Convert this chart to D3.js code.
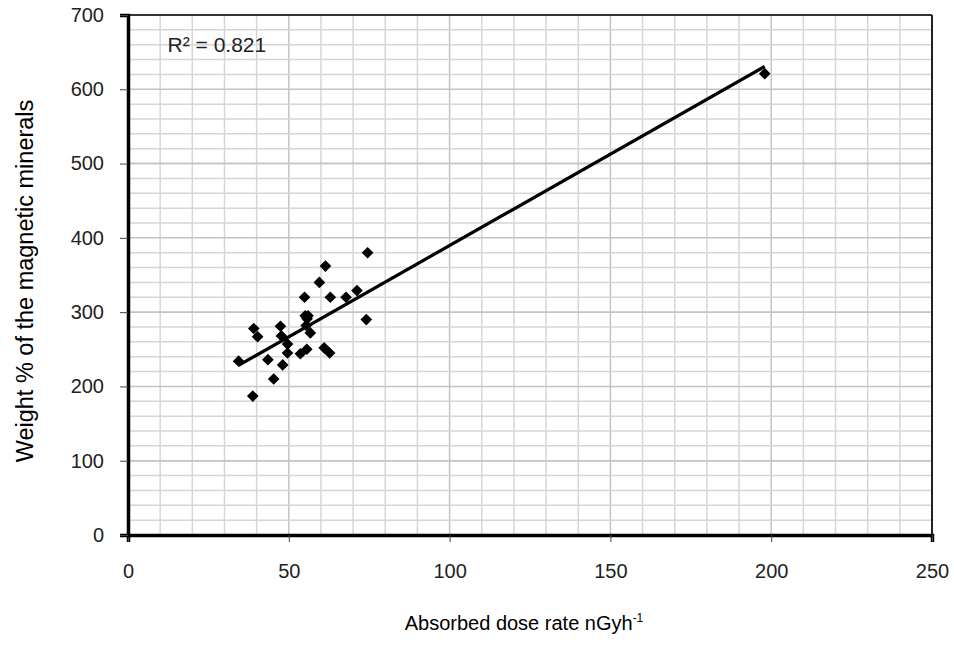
<!DOCTYPE html>
<html>
<head>
<meta charset="utf-8">
<script src="https://cdn.jsdelivr.net/npm/d3@7"></script>
<style>
  body { margin: 0; background: #fff; }
  svg { display: block; font-family: "Liberation Sans", Arial, sans-serif; }
</style>
</head>
<body>
<svg id="chart" width="954" height="651"></svg>
<script>
// absorbed dose rate (nGy/h) and weight % of magnetic minerals
var doseRate = [34.4, 39.1, 40.3, 38.8, 43.5, 45.3, 48.1, 47.4, 47.7, 49.6,
                49.6, 53.6, 55.6, 54.9, 55.1, 55.7, 55.4, 56.7, 56.0, 59.5,
                61.4, 62.9, 61.0, 62.7, 67.8, 71.2, 74.5, 74.1, 198];
var weightPct = [234, 278, 267, 187, 236, 210, 229, 281, 268, 257,
                 245, 244, 250, 320, 295, 291, 282, 272, 295, 340,
                 362, 320, 252, 245, 320, 329, 380, 290, 621];
var xTicks = [0, 50, 100, 150, 200, 250];
var yTicks = [0, 100, 200, 300, 400, 500, 600, 700];
var rSquaredLabel = 'R\u00b2 = 0.821';

var margin = {left: 128, right: 22, top: 15, bottom: 116};
var width = 954 - margin.left - margin.right,
    height = 651 - margin.top - margin.bottom;

var svg = d3.select('#chart');
var g = svg.append('g').attr('transform', 'translate(' + margin.left + ',' + margin.top + ')');

var x = d3.scaleLinear().domain([0, 250]).range([0, width]);
var y = d3.scaleLinear().domain([0, 700]).range([height, 0]);

// minor + major grid
g.append('g').selectAll('line.vg')
  .data(d3.range(10, 250, 10))
  .join('line')
  .attr('x1', d => x(d)).attr('x2', d => x(d))
  .attr('y1', 0).attr('y2', height)
  .attr('stroke', d => d % 50 === 0 ? '#c4c4c4' : '#d6d6d6')
  .attr('stroke-width', 1.5);
g.append('g').selectAll('line.hg')
  .data(d3.range(20, 700, 20).concat([100, 300, 500]))
  .join('line')
  .attr('x1', 0).attr('x2', width)
  .attr('y1', d => y(d)).attr('y2', d => y(d))
  .attr('stroke', d => d % 100 === 0 ? '#c4c4c4' : '#d6d6d6')
  .attr('stroke-width', 1.5);

// frame: thin top/right, heavy left/bottom
g.append('line').attr('x1', 0).attr('x2', width).attr('y1', 0).attr('y2', 0)
  .attr('stroke', '#333').attr('stroke-width', 2);
g.append('line').attr('x1', width).attr('x2', width).attr('y1', 0).attr('y2', height)
  .attr('stroke', '#222').attr('stroke-width', 2);

var xAxis = g.append('g').attr('transform', 'translate(0,' + height + ')')
  .call(d3.axisBottom(x).tickValues(xTicks).tickSize(7).tickPadding(22));
var yAxis = g.append('g')
  .call(d3.axisLeft(y).tickValues(yTicks).tickSize(8).tickPadding(16));
[xAxis, yAxis].forEach(function(a) {
  a.select('.domain').attr('stroke', '#000').attr('stroke-width', 3.5);
  a.selectAll('.tick line').attr('stroke', '#444').attr('stroke-width', 1);
  a.selectAll('.tick text').attr('fill', '#222').attr('font-size', 20)
    .attr('font-family', '"Liberation Sans", Arial, sans-serif');
});

// least squares trend line
var mx = d3.mean(doseRate), my = d3.mean(weightPct);
var sxy = d3.sum(doseRate, (v, i) => (v - mx) * (weightPct[i] - my)),
    sxx = d3.sum(doseRate, v => (v - mx) * (v - mx));
var slope = sxy / sxx, intercept = my - slope * mx;
g.append('path')
  .datum(d3.extent(doseRate))
  .attr('d', d3.line().x(d => x(d)).y(d => y(intercept + slope * d)))
  .attr('stroke', '#000').attr('stroke-width', 3.2).attr('fill', 'none');

// diamond markers
var diamond = d3.symbol().type(d3.symbolSquare).size(68);
g.append('g').selectAll('path.pt')
  .data(doseRate.map((v, i) => [v, weightPct[i]]))
  .join('path')
  .attr('d', diamond)
  .attr('transform', d => 'translate(' + x(d[0]) + ',' + y(d[1]) + ') rotate(45)')
  .attr('fill', '#000');

g.append('text')
  .attr('x', x(12.3)).attr('y', 37)
  .attr('font-size', 21).attr('fill', '#222')
  .text(rSquaredLabel);

// axis titles
svg.append('text')
  .attr('x', margin.left + width / 2 - 6).attr('y', 630)
  .attr('text-anchor', 'middle').attr('font-size', 20).attr('fill', '#000')
  .text('Absorbed dose rate nGyh')
  .append('tspan').attr('dy', -8).attr('font-size', 12).text('-1');

svg.append('text')
  .attr('transform', 'translate(33,' + (margin.top + height / 2 + 6) + ') rotate(-90)')
  .attr('text-anchor', 'middle').attr('font-size', 23.5).attr('fill', '#000')
  .text('Weight % of the magnetic minerals');
</script>
</body>
</html>
